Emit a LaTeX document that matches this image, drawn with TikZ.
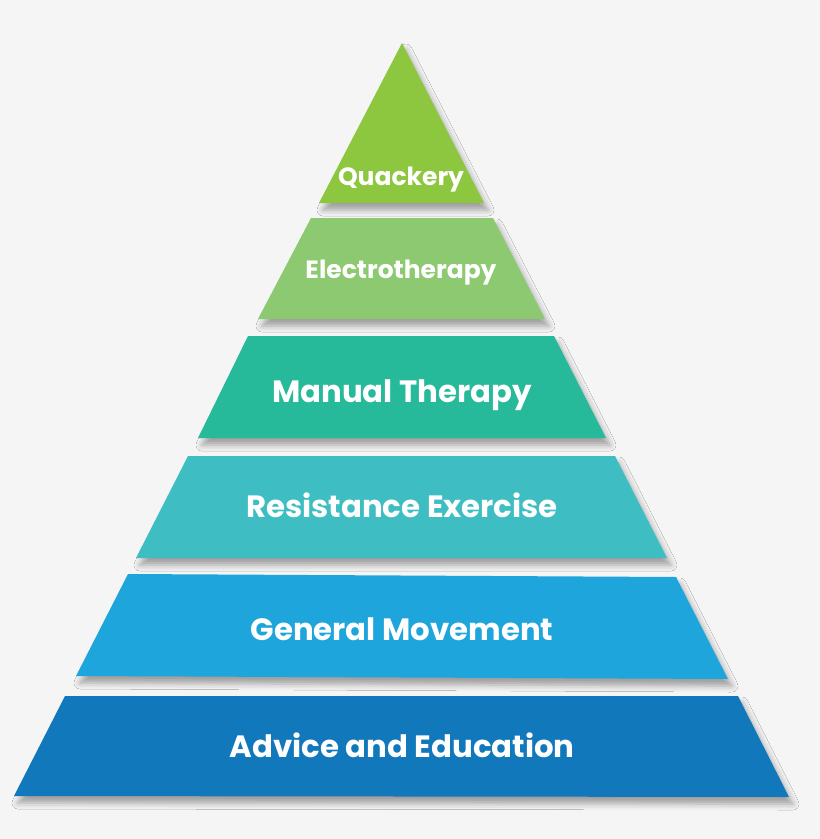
\documentclass[tikz,border=0pt]{standalone}
\usepackage{fontspec}
\setmainfont{Poppins}
\usetikzlibrary{shadows.blur}
\definecolor{bgc}{HTML}{F5F5F5}
\definecolor{cq}{HTML}{8DC63F}
\definecolor{ce}{HTML}{8DC971}
\definecolor{cm}{HTML}{26B99A}
\definecolor{cr}{HTML}{3EBEC2}
\definecolor{cg}{HTML}{1EA6DC}
\definecolor{ca}{HTML}{1278BC}
\tikzset{
  tier/.style={blur shadow={shadow xshift=4pt, shadow yshift=-7pt, shadow blur radius=6pt, shadow opacity=35}},
  lbl/.style={text=white, font=\bfseries\fontsize{30.8}{32}\selectfont, inner sep=0pt, anchor=base},
  slbl/.style={lbl, font=\bfseries\fontsize{25}{27}\selectfont}
}
\begin{document}
\begin{tikzpicture}[x=1pt,y=-1pt]
\fill[bgc] (0,0) rectangle (820,839);
\useasboundingbox (0,0) rectangle (820,839);
\path[tier, fill=cq] (402,43) -- (484,203) -- (319,203) -- cycle;
\path[tier, fill=ce] (311,218) -- (493,218) -- (545,319) -- (258,319) -- cycle;
\path[tier, fill=cm] (248,336) -- (554,336) -- (606,438) -- (198,438) -- cycle;
\path[tier, fill=cr] (188,456) -- (615,456) -- (667,558) -- (136,558) -- cycle;
\path[tier, fill=cg] (128,574) -- (676,577) -- (728,679) -- (76,676) -- cycle;
\path[tier, fill=ca] (65,696) -- (738,696) -- (789,797) -- (14,796) -- cycle;
\node[slbl] (q) at (401,185) {Quackery};
\node[slbl] (e) at (401,278) {Electrotherapy};
\node[lbl] (m) at (402,402) {Manual Therapy};
\node[lbl] (r) at (402,517) {Resistance Exercise};
\node[lbl] (g) at (402,640) {General Movement};
\node[lbl] (a) at (402,757) {Advice and Education};
\end{tikzpicture}
\end{document}
